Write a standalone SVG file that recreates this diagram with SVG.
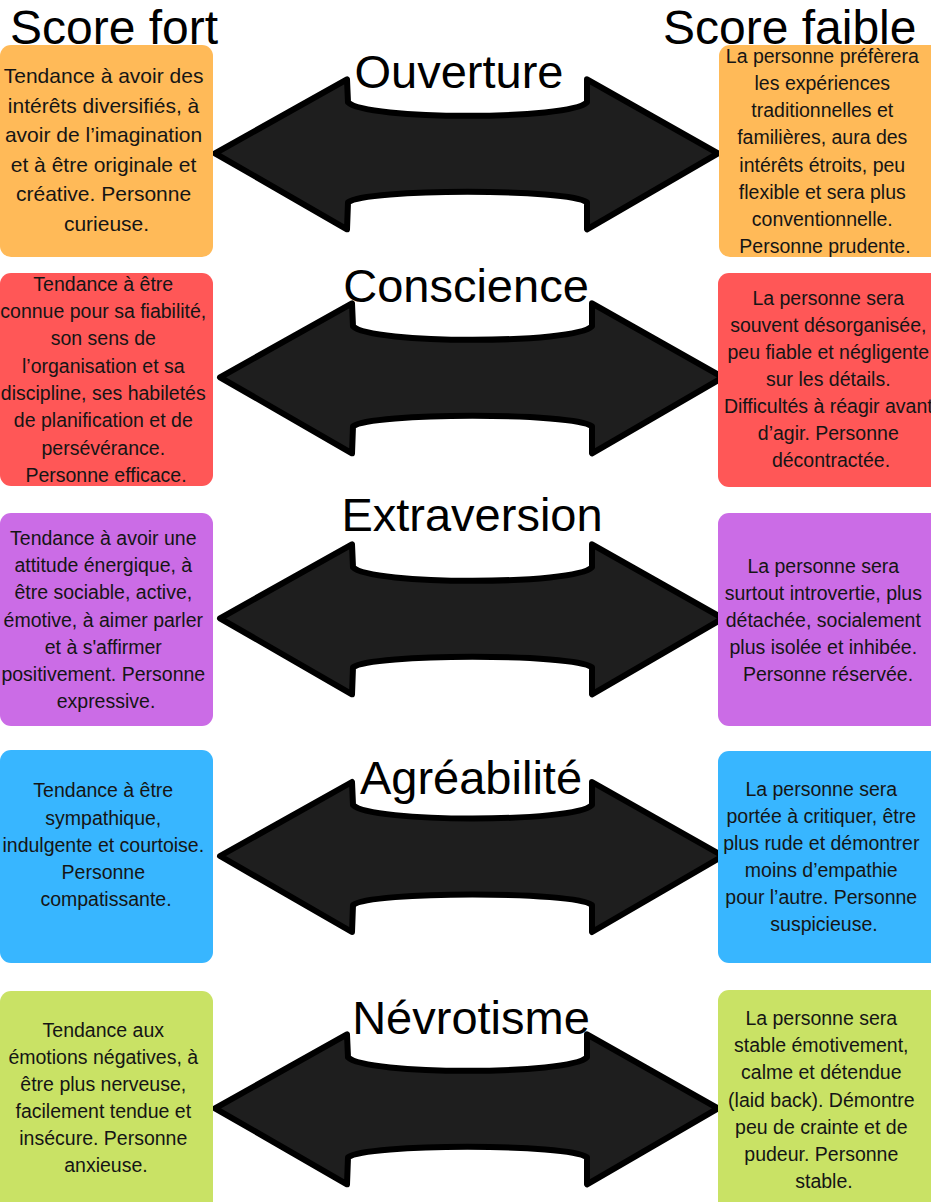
<svg xmlns="http://www.w3.org/2000/svg" xmlns:xlink="http://www.w3.org/1999/xlink" width="931" height="1202" viewBox="0 0 931 1202">
  <style>
    .hdr { font-family: "Liberation Sans", Arial, sans-serif; font-size: 48px; fill: #000; }
    .ttl { font-family: "Liberation Sans", Arial, sans-serif; font-size: 47px; fill: #000; text-anchor: middle; }
    .txt { font-family: "Liberation Sans", Arial, sans-serif; font-size: 19.5px; fill: #151515; text-anchor: middle; }
    .big { font-size: 21px; }
    .arrow { fill: #1e1e1e; stroke: #000; stroke-width: 6; stroke-linejoin: round; }
    .orange { fill: #FFBA58; }
    .red { fill: #FF5757; }
    .purple { fill: #CB6CE6; }
    .blue { fill: #38B6FF; }
    .green { fill: #C9E265; }
  </style>
  <defs>
    <path id="dblArrow" class="arrow" d="M0,0 L132,-74 L133,-51 C150,-33 355,-33 372,-51 L372,-74 L503,0 L372,76 L372,49 C355,35 150,35 133,49 L132,76 Z"/>
  </defs>
  <rect width="931" height="1202" fill="#fff"/>

  <g id="headers">
    <text class="hdr" x="10" y="44">Score fort</text>
    <text class="hdr" x="663" y="44">Score faible</text>
  </g>

  <g id="connectors">
    <use xlink:href="#dblArrow" href="#dblArrow" transform="translate(215,153.3)"/>
    <use xlink:href="#dblArrow" href="#dblArrow" transform="translate(220,377.3)"/>
    <use xlink:href="#dblArrow" href="#dblArrow" transform="translate(220,618.3)"/>
    <use xlink:href="#dblArrow" href="#dblArrow" transform="translate(220,856)"/>
    <use xlink:href="#dblArrow" href="#dblArrow" transform="translate(215,1108.3)"/>
  </g>

  <g id="titles">
    <text id="t-ouverture" class="ttl" x="459" y="88">Ouverture</text>
    <text id="t-conscience" class="ttl" x="466" y="302">Conscience</text>
    <text id="t-extraversion" class="ttl" x="472" y="531">Extraversion</text>
    <text id="t-agreabilite" class="ttl" x="471" y="794">Agréabilité</text>
    <text id="t-nevrotisme" class="ttl" x="471" y="1034">Névrotisme</text>
  </g>

  <g id="ouverture-fort">
    <rect class="orange" x="0" y="45" width="213" height="212" rx="11"/>
    <text class="txt big" x="106.5" y="83">
      <tspan x="106.5">Tendance à avoir des</tspan>
      <tspan x="106.5" dy="29.5">intérêts diversifiés, à</tspan>
      <tspan x="106.5" dy="29.5">avoir de l’imagination</tspan>
      <tspan x="106.5" dy="29.5">et à être originale et</tspan>
      <tspan x="106.5" dy="29.5">créative. Personne</tspan>
      <tspan x="106.5" dy="29.5">curieuse.</tspan>
    </text>
  </g>
  <g id="ouverture-faible">
    <rect class="orange" x="719" y="45" width="230" height="212" rx="11"/>
    <text class="txt" x="825" y="62.7">
      <tspan x="825">La personne préfèrera</tspan>
      <tspan x="825" dy="27.2">les expériences</tspan>
      <tspan x="825" dy="27.2">traditionnelles et</tspan>
      <tspan x="825" dy="27.2">familières, aura des</tspan>
      <tspan x="825" dy="27.2">intérêts étroits, peu</tspan>
      <tspan x="825" dy="27.2">flexible et sera plus</tspan>
      <tspan x="825" dy="27.2">conventionnelle.</tspan>
      <tspan x="825" dy="27.2">Personne prudente.</tspan>
    </text>
  </g>

  <g id="conscience-fort">
    <rect class="red" x="0" y="273" width="213" height="213" rx="11"/>
    <text class="txt" x="106" y="290.7">
      <tspan x="106">Tendance à être</tspan>
      <tspan x="106" dy="27.3">connue pour sa fiabilité,</tspan>
      <tspan x="106" dy="27.3">son sens de</tspan>
      <tspan x="106" dy="27.3">l’organisation et sa</tspan>
      <tspan x="106" dy="27.3">discipline, ses habiletés</tspan>
      <tspan x="106" dy="27.3">de planification et de</tspan>
      <tspan x="106" dy="27.3">persévérance.</tspan>
      <tspan x="106" dy="27.3">Personne efficace.</tspan>
    </text>
  </g>
  <g id="conscience-faible">
    <rect class="red" x="718" y="273" width="230" height="214" rx="11"/>
    <text class="txt" x="831" y="305">
      <tspan x="831">La personne sera</tspan>
      <tspan x="831" dy="27">souvent désorganisée,</tspan>
      <tspan x="831" dy="27">peu fiable et négligente</tspan>
      <tspan x="831" dy="27">sur les détails.</tspan>
      <tspan x="831" dy="27">Difficultés à réagir avant</tspan>
      <tspan x="831" dy="27">d’agir. Personne</tspan>
      <tspan x="831" dy="27">décontractée.</tspan>
    </text>
  </g>

  <g id="extraversion-fort">
    <rect class="purple" x="0" y="513" width="213" height="213" rx="11"/>
    <text class="txt" x="106" y="545">
      <tspan x="106">Tendance à avoir une</tspan>
      <tspan x="106" dy="27.2">attitude énergique, à</tspan>
      <tspan x="106" dy="27.2">être sociable, active,</tspan>
      <tspan x="106" dy="27.2">émotive, à aimer parler</tspan>
      <tspan x="106" dy="27.2">et à s'affirmer</tspan>
      <tspan x="106" dy="27.2">positivement. Personne</tspan>
      <tspan x="106" dy="27.2">expressive.</tspan>
    </text>
  </g>
  <g id="extraversion-faible">
    <rect class="purple" x="718" y="513" width="230" height="213" rx="11"/>
    <text class="txt" x="826" y="572.7">
      <tspan x="826">La personne sera</tspan>
      <tspan x="826" dy="27">surtout introvertie, plus</tspan>
      <tspan x="826" dy="27">détachée, socialement</tspan>
      <tspan x="826" dy="27">plus isolée et inhibée.</tspan>
      <tspan x="828" dy="27">Personne réservée.</tspan>
    </text>
  </g>

  <g id="agreabilite-fort">
    <rect class="blue" x="0" y="750" width="213" height="213" rx="11"/>
    <text class="txt" x="106" y="797.3">
      <tspan x="106">Tendance à être</tspan>
      <tspan x="106" dy="27.2">sympathique,</tspan>
      <tspan x="106" dy="27.2">indulgente et courtoise.</tspan>
      <tspan x="106" dy="27.2">Personne</tspan>
      <tspan x="106" dy="27.2">compatissante.</tspan>
    </text>
  </g>
  <g id="agreabilite-faible">
    <rect class="blue" x="718" y="751" width="230" height="212" rx="11"/>
    <text class="txt" x="824" y="796">
      <tspan x="824">La personne sera</tspan>
      <tspan x="824" dy="26.9">portée à critiquer, être</tspan>
      <tspan x="824" dy="26.9">plus rude et démontrer</tspan>
      <tspan x="824" dy="26.9">moins d’empathie</tspan>
      <tspan x="824" dy="26.9">pour l’autre. Personne</tspan>
      <tspan x="824" dy="26.9">suspicieuse.</tspan>
    </text>
  </g>

  <g id="nevrotisme-fort">
    <rect class="green" x="0" y="991" width="213" height="222" rx="11"/>
    <text class="txt" x="106" y="1036.7">
      <tspan x="106">Tendance aux</tspan>
      <tspan x="106" dy="27.1">émotions négatives, à</tspan>
      <tspan x="106" dy="27.1">être plus nerveuse,</tspan>
      <tspan x="106" dy="27.1">facilement tendue et</tspan>
      <tspan x="106" dy="27.1">insécure. Personne</tspan>
      <tspan x="106" dy="27.1">anxieuse.</tspan>
    </text>
  </g>
  <g id="nevrotisme-faible">
    <rect class="green" x="718" y="990" width="230" height="222" rx="11"/>
    <text class="txt" x="824" y="1025">
      <tspan x="824">La personne sera</tspan>
      <tspan x="824" dy="27.2">stable émotivement,</tspan>
      <tspan x="824" dy="27.2">calme et détendue</tspan>
      <tspan x="824" dy="27.2">(laid back). Démontre</tspan>
      <tspan x="824" dy="27.2">peu de crainte et de</tspan>
      <tspan x="824" dy="27.2">pudeur. Personne</tspan>
      <tspan x="824" dy="27.2">stable.</tspan>
    </text>
  </g>
</svg>
